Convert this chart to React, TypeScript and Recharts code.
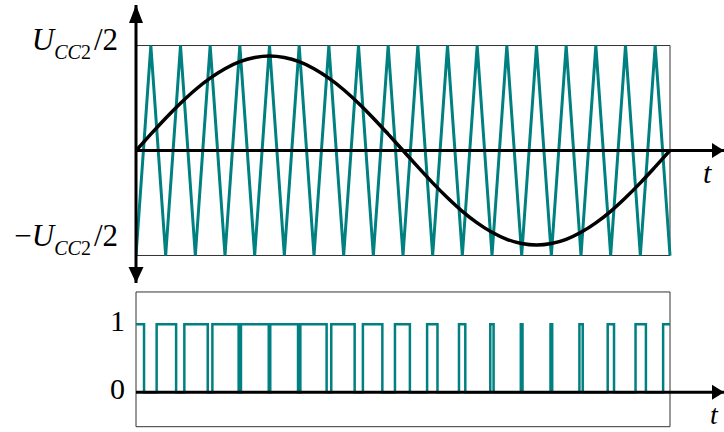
import React from 'react'
import { LineChart, Line, XAxis, YAxis, ReferenceLine, ReferenceArea, ReferenceDot } from 'recharts'

const SERIF = '"Liberation Serif", "Times New Roman", Times, serif'
const TEAL = '#008080'

// time axis in half carrier periods: 18 carrier periods over one sine period
const tGrid = [0, 1, 2, 3, 4, 5, 6, 7, 8, 9, 10, 11, 12, 13, 14, 15, 16, 17, 18, 19, 20, 21, 22, 23, 24, 25, 26, 27, 28, 29, 30, 31, 32, 33, 34, 35, 36]
const carrier = [-1, 1, -1, 1, -1, 1, -1, 1, -1, 1, -1, 1, -1, 1, -1, 1, -1, 1, -1, 1, -1, 1, -1, 1, -1, 1, -1, 1, -1, 1, -1, 1, -1, 1, -1, 1, -1]
const modulating = [
  0, 0.156, 0.308, 0.45, 0.579, 0.689, 0.779, 0.846, 0.886, 0.9, 0.886, 0.846, 0.779, 0.689, 0.579, 0.45, 0.308, 0.156,
  0, -0.156, -0.308, -0.45, -0.579, -0.689, -0.779, -0.846, -0.886, -0.9, -0.886, -0.846, -0.779, -0.689, -0.579, -0.45, -0.308, -0.156, 0
]

// PWM output starts high, toggles at each switching instant
const pwmStart = 1
const switchTimes = [
  0.542, 1.392, 2.704, 3.259, 4.836, 5.149, 6.92, 7.076, 8.95, 9.05, 10.924, 11.08,
  12.851, 13.164, 14.741, 15.296, 16.608, 17.458, 18.464, 19.625, 20.324, 21.774, 22.2, 23.884,
  24.107, 25.942, 26.056, 27.944, 28.058, 29.893, 30.116, 31.8, 32.226, 33.677, 34.375, 35.536
]
const tEnd = 36

const topTicks = [-1, 1]
const bottomTicks = [0, 1]

const waveRows = tGrid.map((t, i) => ({ t, carrier: carrier[i], sine: modulating[i] }))

const pwmRows: { t: number; v: number }[] = [{ t: 0, v: pwmStart }]
let level = pwmStart
switchTimes.forEach((s) => {
  pwmRows.push({ t: s, v: level })
  level = 1 - level
  pwmRows.push({ t: s, v: level })
})
pwmRows.push({ t: tEnd, v: level })

const X_DOMAIN: [number, number] = [0, 39.64]

const txt = { fontFamily: SERIF, fill: '#000' }

const VoltTick = (props: any) => {
  const { x, y, payload } = props
  const neg = payload.value < 0
  return (
    <text x={x} y={y + (neg ? -9 : 4)} textAnchor="end" fontSize={31} style={txt}>
      {neg ? '\u2212' : ''}
      <tspan fontStyle="italic">U</tspan>
      <tspan fontStyle="italic" fontSize={20} dy={9}>CC</tspan>
      <tspan fontSize={20}>2</tspan>
      <tspan dx={3} dy={-9}>/2</tspan>
    </text>
  )
}

const LevelTick = (props: any) => {
  const { x, y, payload } = props
  return (
    <text x={x} y={y + 7} textAnchor="end" fontSize={30} style={txt}>
      {payload.value}
    </text>
  )
}

const arrowUp = ({ cx, cy }: any) => (
  <polygon points={`${cx},${cy} ${cx - 7},${cy + 18} ${cx + 7},${cy + 18}`} fill="#000" />
)
const arrowDown = ({ cx, cy }: any) => (
  <polygon points={`${cx},${cy} ${cx - 7.5},${cy - 16} ${cx + 7.5},${cy - 16}`} fill="#000" />
)
const arrowRight = (dx: number, dy: number, size: number) => ({ cx, cy }: any) => (
  <g>
    <polygon points={`${cx},${cy} ${cx - 12},${cy - 7.5} ${cx - 12},${cy + 7.5}`} fill="#000" />
    <text x={cx + dx} y={cy + dy} fontStyle="italic" fontSize={size} style={txt}>t</text>
  </g>
)

export default function App() {
  return (
    <div style={{ position: 'fixed', left: 0, top: 0, width: 724, height: 432, background: '#fff' }}>
      <div style={{ position: 'absolute', left: 0, top: 0 }}>
        <LineChart width={724} height={290} data={waveRows} margin={{ top: 5, right: 0, bottom: 7, left: 0 }}>
          <XAxis type="number" dataKey="t" domain={X_DOMAIN} allowDataOverflow hide />
          <YAxis
            type="number"
            domain={[-1.262, 1.386]}
            allowDataOverflow
            ticks={topTicks}
            interval={0}
            width={136}
            axisLine={{ stroke: '#000', strokeWidth: 3 }}
            tickLine={false}
            tickSize={0}
            tickMargin={18}
            tick={<VoltTick />}
          />
          <ReferenceArea x1={0} x2={tEnd} y1={-1} y2={1} fill="none" stroke="#333" strokeWidth={1} ifOverflow="visible" />
          <Line type="linear" dataKey="carrier" stroke={TEAL} strokeWidth={3} dot={false} activeDot={false} isAnimationActive={false} />
          <Line type="monotone" dataKey="sine" stroke="#000" strokeWidth={3.5} dot={false} activeDot={false} isAnimationActive={false} />
          <ReferenceLine y={0} stroke="#000" strokeWidth={3} ifOverflow="visible" />
          <ReferenceDot x={0} y={1.386} r={1} shape={arrowUp} ifOverflow="visible" />
          <ReferenceDot x={0} y={-1.262} r={1} shape={arrowDown} ifOverflow="visible" />
          <ReferenceDot x={X_DOMAIN[1]} y={0} r={1} shape={arrowRight(-21, 32, 30)} ifOverflow="visible" />
        </LineChart>
      </div>
      <div style={{ position: 'absolute', left: 0, top: 285 }}>
        <LineChart width={724} height={147} data={pwmRows} margin={{ top: 5, right: 0, bottom: 0, left: 0 }}>
          <XAxis type="number" dataKey="t" domain={X_DOMAIN} allowDataOverflow hide />
          <YAxis
            type="number"
            domain={[-0.584, 1.504]}
            allowDataOverflow
            ticks={bottomTicks}
            interval={0}
            width={136}
            axisLine={false}
            tickLine={false}
            tickSize={0}
            tickMargin={11}
            tick={<LevelTick />}
          />
          <ReferenceArea x1={0} x2={tEnd} y1={-0.506} y2={1.475} fill="none" stroke="#333" strokeWidth={1} ifOverflow="visible" />
          <Line type="linear" dataKey="v" stroke={TEAL} strokeWidth={2.5} dot={false} activeDot={false} isAnimationActive={false} />
          <ReferenceLine y={0} stroke="#000" strokeWidth={3} ifOverflow="visible" />
          <ReferenceDot x={X_DOMAIN[1]} y={0} r={1} shape={arrowRight(-14, 32, 28)} ifOverflow="visible" />
        </LineChart>
      </div>
    </div>
  )
}
